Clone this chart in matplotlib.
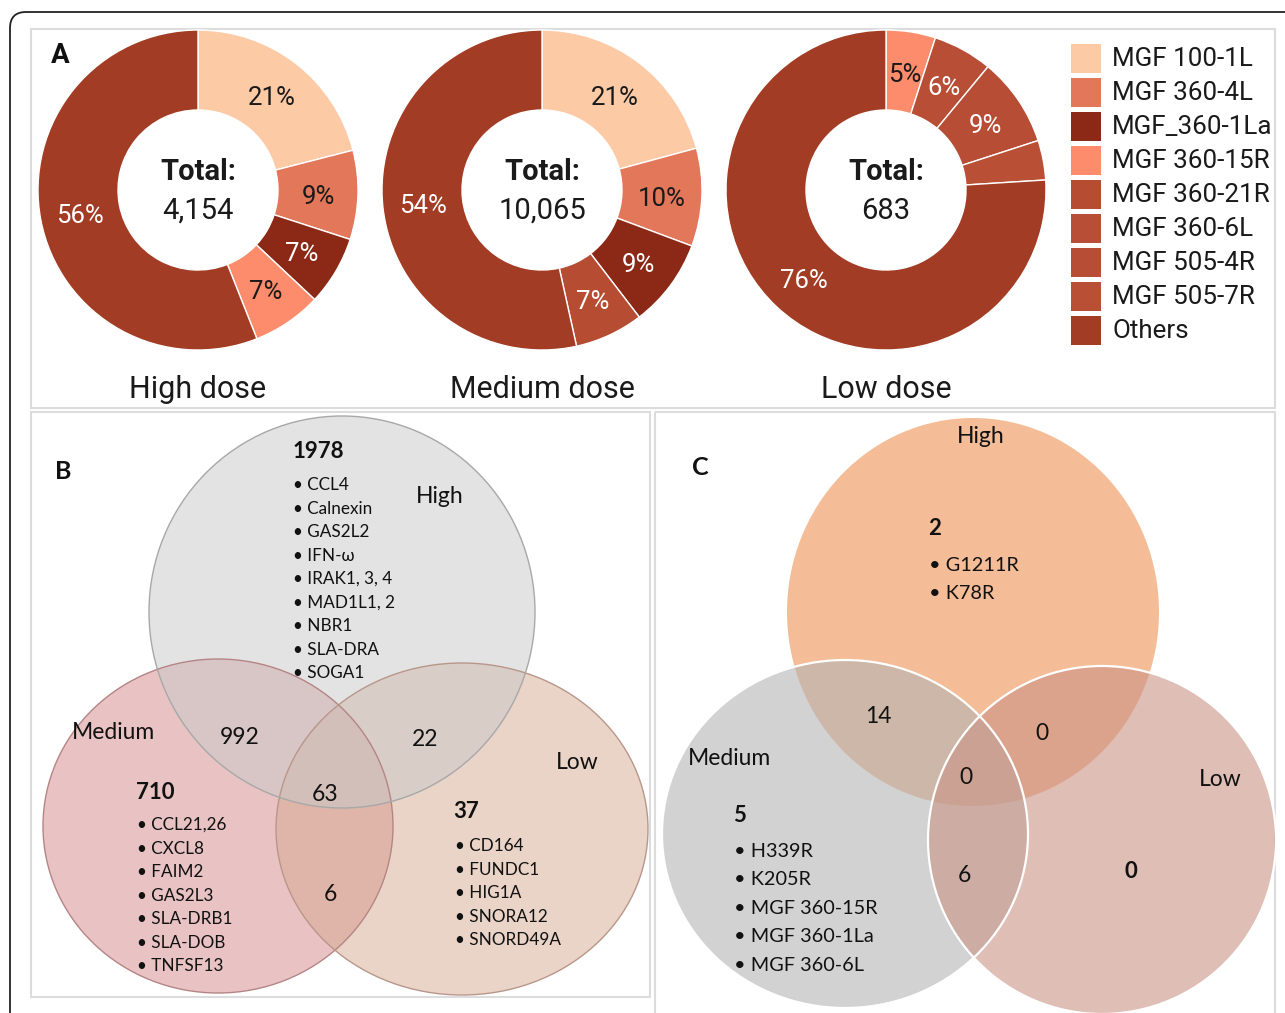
import numpy as np
import matplotlib
matplotlib.use("Agg")
import matplotlib.pyplot as plt
from matplotlib.patches import Rectangle, Ellipse, FancyBboxPatch

# ---------------- data ----------------
legend_labels = ["MGF 100-1L", "MGF 360-4L", "MGF_360-1La", "MGF 360-15R",
                 "MGF 360-21R", "MGF 360-6L", "MGF 505-4R", "MGF 505-7R", "Others"]
legend_colors = ["#FDCAA6", "#E3775A", "#8C2916", "#FC8C6B",
                 "#B64D33", "#B84E35", "#B64D34", "#B95036", "#A33C24"]

dose_titles = ["High dose", "Medium dose", "Low dose"]
dose_totals = ["4,154", "10,065", "683"]

high_genes = ["MGF 100-1L", "MGF 360-4L", "MGF_360-1La", "MGF 360-15R", "Others"]
high_pct = [21, 9, 7, 7, 56]
medium_genes = ["MGF 100-1L", "MGF 360-4L", "MGF_360-1La", "MGF 360-21R", "Others"]
medium_pct = [21, 10, 9, 7, 54]
low_genes = ["MGF 360-15R", "MGF 360-6L", "MGF 505-4R", "MGF 505-7R", "Others"]
low_pct = [5, 6, 9, 4, 76]

# Venn B: host proteins
b_sets = ["High", "Medium", "Low"]
b_only_high = 1978
b_only_medium = 710
b_only_low = 37
b_high_medium = 992
b_high_low = 22
b_medium_low = 6
b_all = 63
b_high_list = ["CCL4", "Calnexin", "GAS2L2", "IFN-ω", "IRAK1, 3, 4",
               "MAD1L1, 2", "NBR1", "SLA-DRA", "SOGA1"]
b_medium_list = ["CCL21,26", "CXCL8", "FAIM2", "GAS2L3", "SLA-DRB1", "SLA-DOB", "TNFSF13"]
b_low_list = ["CD164", "FUNDC1", "HIG1A", "SNORA12", "SNORD49A"]

# Venn C: viral proteins
c_sets = ["High", "Medium", "Low"]
c_only_high = 2
c_only_medium = 5
c_only_low = 0
c_high_medium = 14
c_high_low = 0
c_medium_low = 6
c_all = 0
c_high_list = ["G1211R", "K78R"]
c_medium_list = ["H339R", "K205R", "MGF 360-15R", "MGF 360-1La", "MGF 360-6L"]

# ---------------- figure ----------------
W, H = 1285, 1013
fig = plt.figure(figsize=(W / 100, H / 100), dpi=100)
bg = fig.add_axes([0, 0, 1, 1])
bg.set_xlim(0, W)
bg.set_ylim(H, 0)
bg.axis("off")

ROBOTO = ["Roboto", "DejaVu Sans"]
LATO = ["Lato", "DejaVu Sans"]

# outer frame and panel boxes
bg.add_patch(FancyBboxPatch((10, 12), 1320, 1040, boxstyle="round,pad=0,rounding_size=16",
                            fill=False, edgecolor="#222222", linewidth=1.3, zorder=0))
panel_edge = "#DCDCDC"
bg.add_patch(Rectangle((31, 29), 1244, 379, fill=False, edgecolor=panel_edge, lw=1.5, zorder=0))
bg.add_patch(Rectangle((31, 412), 619, 585, fill=False, edgecolor=panel_edge, lw=1.5, zorder=0))
bg.add_patch(Rectangle((655, 412), 620, 620, fill=False, edgecolor=panel_edge, lw=1.5, zorder=0))

# ---------------- panel A: donuts ----------------
color_of = dict(zip(legend_labels, legend_colors))


def lum(hexcol):
    r, g, b = matplotlib.colors.to_rgb(hexcol)
    return 0.2126 * r + 0.7152 * g + 0.0722 * b


def donut(cx, cy, R, genes, pct, title, total):
    ax = fig.add_axes([(cx - R) / W, 1 - (cy + R) / H, 2 * R / W, 2 * R / H])
    cols = [color_of[g] for g in genes]
    wedges, _ = ax.pie(pct, colors=cols, startangle=90, counterclock=False, radius=1,
                       wedgeprops=dict(width=0.5, edgecolor="white", linewidth=1.0))
    for w, p, c in zip(wedges, pct, cols):
        if p < 5:
            continue
        a = np.deg2rad((w.theta1 + w.theta2) / 2)
        tc = "white" if lum(c) < 0.5 else "#1a1a1a"
        ax.text(0.75 * np.cos(a), 0.75 * np.sin(a) - 0.02, f"{p}%", ha="center", va="center",
                fontsize=18.5, color=tc, family=ROBOTO)
    ax.set_xlim(-1, 1)
    ax.set_ylim(-1, 1)
    ax.axis("off")
    bg.text(cx, cy - 18, "Total:", ha="center", va="center", fontsize=21,
            fontweight="bold", family=ROBOTO, color="#1a1a1a")
    bg.text(cx, cy + 21, total, ha="center", va="center", fontsize=21,
            family=ROBOTO, color="#1a1a1a")
    bg.text(cx, cy + 199, title, ha="center", va="center", fontsize=22,
            family=ROBOTO, color="#1a1a1a")


donut(198, 190, 160, high_genes, high_pct, dose_titles[0], dose_totals[0])
donut(542, 190, 160, medium_genes, medium_pct, dose_titles[1], dose_totals[1])
donut(886, 190, 160, low_genes, low_pct, dose_titles[2], dose_totals[2])

bg.text(60, 55, "A", ha="center", va="center", fontsize=20, fontweight="bold",
        family=ROBOTO, color="#111111")

# legend
for i, (lab, col) in enumerate(zip(legend_labels, legend_colors)):
    y = 44 + 34 * i
    bg.add_patch(Rectangle((1071, y), 30, 29, facecolor=col, edgecolor="none"))
    bg.text(1112, y + 15, lab, ha="left", va="center", fontsize=18.7,
            family=ROBOTO, color="#1a1a1a")

# ---------------- panel B: host protein Venn ----------------
alpha_b = 0.5
b_circles = [((218, 826), 350, 334, "#D58989", "#B58585"),
             ((462, 829), 372, 332, "#D7A991", "#B8978A"),
             ((342, 612), 386, 392, "#C9C9C9", "#A8A8A8")]
for (cxy, w, h, fc, ec) in b_circles:
    bg.add_patch(Ellipse(cxy, w, h, facecolor=fc, alpha=alpha_b, edgecolor="none", zorder=1))
for (cxy, w, h, fc, ec) in b_circles:
    bg.add_patch(Ellipse(cxy, w, h, facecolor="none", edgecolor=ec, lw=1.0, zorder=2))

tk = dict(family=LATO, color="#111111", zorder=5)
bg.text(63, 471, "B", ha="center", va="center", fontsize=18, fontweight="bold", **tk)
bg.text(293, 451, str(b_only_high), ha="left", va="center", fontsize=16, fontweight="bold", **tk)
for i, g in enumerate(b_high_list):
    bg.text(293, 485 + 23.5 * i, "• " + g, ha="left", va="center", fontsize=12.3, **tk)
bg.text(440, 496, b_sets[0], ha="center", va="center", fontsize=16.5, **tk)
bg.text(113, 732, b_sets[1], ha="center", va="center", fontsize=16.5, **tk)
bg.text(577, 762, b_sets[2], ha="center", va="center", fontsize=16.5, **tk)
bg.text(240, 737, str(b_high_medium), ha="center", va="center", fontsize=16.5, **tk)
bg.text(425, 739, str(b_high_low), ha="center", va="center", fontsize=16.5, **tk)
bg.text(325, 794, str(b_all), ha="center", va="center", fontsize=16.5, **tk)
bg.text(330, 894, str(b_medium_low), ha="center", va="center", fontsize=16.5, **tk)
bg.text(136, 792, str(b_only_medium), ha="left", va="center", fontsize=16, fontweight="bold", **tk)
for i, g in enumerate(b_medium_list):
    bg.text(137, 825 + 23.5 * i, "• " + g, ha="left", va="center", fontsize=12.3, **tk)
bg.text(453, 811, str(b_only_low), ha="left", va="center", fontsize=16, fontweight="bold", **tk)
for i, g in enumerate(b_low_list):
    bg.text(455, 846 + 23.5 * i, "• " + g, ha="left", va="center", fontsize=12.3, **tk)

# ---------------- panel C: viral protein Venn ----------------
# High first, then Medium and Low on top; Medium/Low carry white outlines
alpha_c = 0.6
c_high = ((973, 612), 372, 388, "#EE9252")
c_medium = ((845, 834), 366, 348, "#B4B4B4")
c_low = ((1102, 840), 348, 348, "#CB9385")
for (cxy, w, h, fc) in [c_high, c_medium, c_low]:
    bg.add_patch(Ellipse(cxy, w, h, facecolor=fc, alpha=alpha_c, edgecolor="none", zorder=1))
for (cxy, w, h, fc) in [c_medium, c_low]:
    bg.add_patch(Ellipse(cxy, w, h, facecolor="none", edgecolor="white", lw=1.6, zorder=2))

bg.text(700, 467, "C", ha="center", va="center", fontsize=18, fontweight="bold", **tk)
bg.text(981, 436, c_sets[0], ha="center", va="center", fontsize=16.5, **tk)
bg.text(729, 758, c_sets[1], ha="center", va="center", fontsize=16.5, **tk)
bg.text(1220, 779, c_sets[2], ha="center", va="center", fontsize=16.5, **tk)
bg.text(928, 528, str(c_only_high), ha="left", va="center", fontsize=16, fontweight="bold", **tk)
for i, g in enumerate(c_high_list):
    bg.text(929, 565 + 28 * i, "• " + g, ha="left", va="center", fontsize=14.3, **tk)
bg.text(878, 716, str(c_high_medium), ha="center", va="center", fontsize=16.5, **tk)
bg.text(1042, 733, str(c_high_low), ha="center", va="center", fontsize=16.5, **tk)
bg.text(966, 777, str(c_all), ha="center", va="center", fontsize=16.5, **tk)
bg.text(964, 875, str(c_medium_low), ha="center", va="center", fontsize=16.5, **tk)
bg.text(1131, 871, str(c_only_low), ha="center", va="center", fontsize=16, fontweight="bold", **tk)
bg.text(733, 815, str(c_only_medium), ha="left", va="center", fontsize=16, fontweight="bold", **tk)
for i, g in enumerate(c_medium_list):
    bg.text(734, 851 + 28.5 * i, "• " + g, ha="left", va="center", fontsize=14.3, **tk)

fig.savefig("out.png", dpi=100, facecolor="white")
